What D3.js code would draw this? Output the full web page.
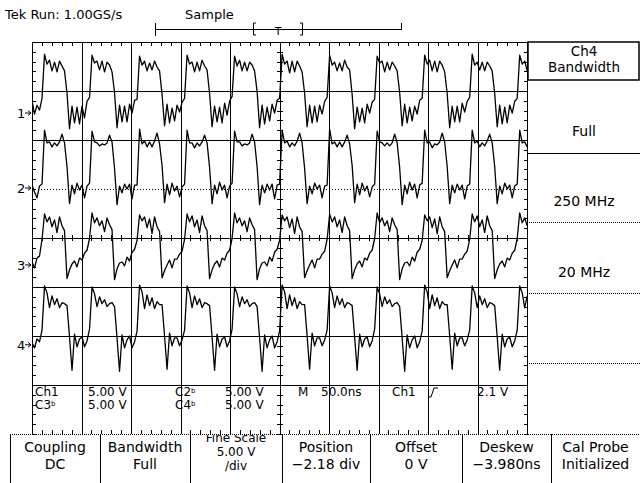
<!DOCTYPE html>
<html lang="en">
<head>
<meta charset="utf-8">
<title>Tek Run: 1.00GS/s</title>
<script src="https://cdn.jsdelivr.net/npm/d3@7"></script>
<style>
  body { margin: 0; background: #fff; }
  svg { display: block; font-family: "DejaVu Sans", sans-serif; fill: #000; }
  .grid line, .frame { stroke: #000; shape-rendering: crispEdges; }
  .tick line { stroke: #000; shape-rendering: crispEdges; }
  .wave { fill: none; stroke: #000; stroke-width: 1.3; stroke-linejoin: round; }
</style>
</head>
<body>
<script>

// Timebase / vertical settings
var timeNs = [0, 500];            // 10 div x 50.0 ns
var divRange = [-4, 4];           // 8 vertical divisions
var voltsPerDiv = 5;              // 5.00 V/div on all four channels
var sampleNs = 48 / 19;           // spacing of the values below
var channelNames = ["1", "2", "3", "4"];
var channelOffsets = [2.55, 1.02, -0.55, -2.18];   // ground marker, in divisions

// Sampled traces, volts (one row per clock period)
var ch1 = [
  1.3, -0.1, 0.8, 0.3,
  1.5, 6.0, 5.0, 5.4, 4.3, 5.2, 4.2, 5.3, 4.8, 4.3, 2.0, -1.6, 0.7, -1.0, 0.6, -1.1, 0.7, -0.5, 1.2,
  1.6, 5.9, 5.1, 5.3, 4.4, 5.3, 4.2, 5.2, 4.9, 4.2, 2.1, -1.5, 0.8, -0.9, 0.7, -0.9, 0.9, 0.0, 1.3,
  1.4, 5.8, 4.9, 5.3, 4.3, 5.1, 4.4, 5.3, 4.7, 4.3, 1.9, -1.3, 0.9, -1.0, 0.5, -0.8, 0.8, 0.1, 1.1,
  1.5, 5.9, 5.0, 5.2, 4.2, 5.2, 4.3, 5.4, 4.8, 4.4, 2.0, -1.4, 0.7, -0.9, 0.6, -1.0, 1.0, -0.2, 1.2,
  1.7, 5.8, 4.8, 5.4, 4.3, 5.2, 4.3, 5.2, 4.9, 4.3, 2.2, -1.5, 0.8, -1.1, 0.6, -0.8, 0.9, 0.0, 1.3,
  1.5, 6.0, 5.0, 5.3, 4.1, 5.3, 4.2, 5.3, 4.8, 4.2, 2.0, -1.4, 0.8, -1.0, 0.7, -0.9, 0.8, -0.1, 1.2,
  1.6, 5.9, 4.9, 5.2, 4.3, 5.1, 4.3, 5.4, 4.7, 4.4, 1.9, -1.6, 0.6, -0.9, 0.5, -1.0, 0.9, 0.0, 1.1,
  1.4, 5.8, 5.1, 5.3, 4.2, 5.2, 4.4, 5.2, 4.8, 4.3, 2.1, -1.3, 0.9, -1.0, 0.6, -0.8, 0.7, -0.1, 1.3,
  1.5, 5.9, 5.0, 5.4, 4.3, 5.3, 4.2, 5.3, 4.9, 4.2, 2.0, -1.5, 0.7, -0.9, 0.7, -0.9, 1.0, 0.1, 1.2,
  1.6, 6.0, 4.9, 5.2, 4.4, 5.2, 4.3, 5.2, 4.8, 4.3, 2.0, -1.4, 0.8, -1.1, 0.6, -1.0, 0.8, 0.0, 1.2,
  1.5, 5.9, 5.0, 5.3, 4.3
];
var ch2 = [
  0.3, -0.4, -1.0, 0.2,
  0.4, 5.9, 4.6, 4.7, 4.2, 4.6, 4.3, 4.7, 5.5, 4.6, 2.2, -1.6, 0.3, -0.6, 0.5, -0.2, 0.3, -1.0, 0.2,
  0.5, 5.8, 4.7, 4.6, 4.3, 4.5, 4.4, 4.6, 5.4, 4.7, 2.0, -1.7, 0.2, -0.5, 0.4, -0.1, 0.4, -1.1, 0.3,
  0.3, 6.0, 4.5, 4.8, 4.2, 4.7, 4.2, 4.8, 5.6, 4.5, 2.3, -1.5, 0.4, -0.7, 0.5, -0.3, 0.2, -0.9, 0.1,
  0.4, 5.9, 4.6, 4.6, 4.1, 4.6, 4.3, 4.7, 5.4, 4.6, 2.1, -1.6, 0.3, -0.6, 0.6, -0.2, 0.3, -1.0, 0.2,
  0.5, 5.8, 4.7, 4.7, 4.3, 4.5, 4.4, 4.6, 5.5, 4.7, 2.2, -1.7, 0.3, -0.5, 0.4, -0.2, 0.4, -1.1, 0.3,
  0.4, 5.9, 4.6, 4.8, 4.2, 4.6, 4.3, 4.8, 5.6, 4.6, 2.0, -1.6, 0.2, -0.6, 0.5, -0.1, 0.3, -1.0, 0.2,
  0.3, 6.0, 4.5, 4.7, 4.2, 4.7, 4.2, 4.7, 5.4, 4.5, 2.3, -1.5, 0.4, -0.7, 0.5, -0.3, 0.2, -0.9, 0.1,
  0.4, 5.8, 4.7, 4.6, 4.3, 4.6, 4.3, 4.6, 5.5, 4.6, 2.1, -1.7, 0.3, -0.6, 0.6, -0.2, 0.4, -1.0, 0.3,
  0.5, 5.9, 4.6, 4.7, 4.1, 4.5, 4.4, 4.7, 5.6, 4.7, 2.2, -1.6, 0.3, -0.5, 0.4, -0.2, 0.3, -1.1, 0.2,
  0.4, 5.9, 4.6, 4.8, 4.2, 4.6, 4.3, 4.8, 5.5, 4.6, 2.2, -1.6, 0.2, -0.6, 0.5, -0.1, 0.3, -1.0, 0.2,
  0.4, 5.9, 4.6, 4.7, 4.2
];
var ch3 = [
  0.3, -0.3, 0.7, 0.9,
  2.6, 5.2, 4.4, 4.9, 3.9, 4.6, 3.3, 4.9, 4.0, 3.5, -1.4, -0.5, 0.1, 0.4, -0.2, 0.7, 0.5, 1.2, 1.5,
  2.7, 5.3, 4.3, 4.8, 4.0, 4.5, 3.4, 4.8, 4.1, 3.6, -1.5, -0.4, 0.2, 0.3, -0.1, 0.8, 0.4, 1.3, 1.6,
  2.5, 5.1, 4.5, 4.9, 3.8, 4.7, 3.2, 4.9, 3.9, 3.4, -1.3, -0.6, 0.0, 0.5, -0.3, 0.6, 0.6, 1.1, 1.4,
  2.6, 5.2, 4.4, 5.0, 3.9, 4.6, 3.3, 5.0, 4.0, 3.5, -1.4, -0.5, 0.1, 0.4, -0.2, 0.7, 0.5, 1.2, 1.5,
  2.7, 5.3, 4.3, 4.8, 4.0, 4.5, 3.4, 4.8, 4.1, 3.6, -1.5, -0.4, 0.2, 0.3, -0.1, 0.8, 0.4, 1.3, 1.6,
  2.5, 5.1, 4.5, 4.9, 3.8, 4.7, 3.2, 4.9, 3.9, 3.4, -1.3, -0.6, 0.0, 0.5, -0.3, 0.6, 0.6, 1.1, 1.4,
  2.6, 5.2, 4.4, 4.9, 3.9, 4.6, 3.3, 4.9, 4.0, 3.5, -1.4, -0.5, 0.1, 0.4, -0.2, 0.7, 0.5, 1.2, 1.5,
  2.7, 5.3, 4.3, 4.8, 4.0, 4.5, 3.4, 4.8, 4.1, 3.6, -1.5, -0.4, 0.2, 0.3, -0.1, 0.8, 0.4, 1.3, 1.6,
  2.5, 5.1, 4.5, 4.9, 3.8, 4.7, 3.2, 4.9, 3.9, 3.4, -1.3, -0.6, 0.0, 0.5, -0.3, 0.6, 0.6, 1.1, 1.4,
  2.6, 5.2, 4.4, 5.0, 3.9, 4.6, 3.3, 5.0, 4.0, 3.5, -1.4, -0.5, 0.1, 0.4, -0.2, 0.7, 0.5, 1.2, 1.5,
  2.7, 5.3, 4.3, 4.8, 4.0
];
var ch4 = [
  0.2, -0.3, 0.6, 0.3,
  1.5, 6.0, 5.3, 3.8, 5.0, 4.1, 4.7, 3.8, 4.3, 4.2, 4.0, 0.8, -2.6, 1.1, -0.2, 0.6, 0.8, -0.2, 0.4,
  1.6, 5.9, 5.2, 3.9, 4.9, 4.2, 4.6, 3.9, 4.2, 4.3, 3.9, 0.7, -2.7, 1.0, -0.3, 0.5, 0.9, -0.3, 0.3,
  1.4, 6.1, 5.4, 3.7, 5.1, 4.0, 4.8, 3.7, 4.4, 4.1, 4.1, 0.9, -2.5, 1.2, -0.1, 0.7, 0.7, -0.1, 0.5,
  1.5, 6.0, 5.3, 3.8, 5.0, 4.1, 4.7, 3.8, 4.3, 4.2, 4.0, 0.8, -2.6, 1.1, -0.2, 0.6, 0.8, -0.2, 0.4,
  1.6, 5.9, 5.2, 3.9, 4.9, 4.2, 4.6, 3.9, 4.2, 4.3, 3.9, 0.7, -2.7, 1.0, -0.3, 0.5, 0.9, -0.3, 0.3,
  1.4, 6.1, 5.4, 3.7, 5.1, 4.0, 4.8, 3.7, 4.4, 4.1, 4.1, 0.9, -2.5, 1.2, -0.1, 0.7, 0.7, -0.1, 0.5,
  1.5, 6.0, 5.3, 3.8, 5.0, 4.1, 4.7, 3.8, 4.3, 4.2, 4.0, 0.8, -2.6, 1.1, -0.2, 0.6, 0.8, -0.2, 0.4,
  1.6, 5.9, 5.2, 3.9, 4.9, 4.2, 4.6, 3.9, 4.2, 4.3, 3.9, 0.7, -2.7, 1.0, -0.3, 0.5, 0.9, -0.3, 0.3,
  1.4, 6.1, 5.4, 3.7, 5.1, 4.0, 4.8, 3.7, 4.4, 4.1, 4.1, 0.9, -2.5, 1.2, -0.1, 0.7, 0.7, -0.1, 0.5,
  1.5, 6.0, 5.3, 3.8, 5.0, 4.1, 4.7, 3.8, 4.3, 4.2, 4.0, 0.8, -2.6, 1.1, -0.2, 0.6, 0.8, -0.2, 0.4,
  1.5, 6.0, 5.3, 3.8, 5.0
];
var traces = [ch1, ch2, ch3, ch4];

// Screen texts: [text, bandwidth-limit flag, x]
var readoutRow1 = [["Ch1", 0, 35], ["5.00 V", 0, 88], ["C2", 1, 175], ["5.00 V", 0, 225], ["M", 0, 298], ["50.0ns", 0, 321], ["Ch1", 0, 392], ["2.1 V", 0, 477]];
var readoutRow2 = [["C3", 1, 35], ["5.00 V", 0, 88], ["C4", 1, 175], ["5.00 V", 0, 225]];
var sideTitle = ["Ch4", "Bandwidth"];
var sideItems = ["Full", "250 MHz", "20 MHz"];
var menuItems = [
  ["Coupling", "DC"],
  ["Bandwidth", "Full"],
  ["Fine Scale", "5.00 V", "/div"],
  ["Position", "\u22122.18 div"],
  ["Offset", "0 V"],
  ["Deskew", "\u22123.980ns"],
  ["Cal Probe", "Initialized"]
];

var w = 640, h = 483;
var gLeft = 32, gRight = 527, gTop = 42, gBottom = 434;

var svg = d3.select("body").append("svg")
  .attr("width", w)
  .attr("height", h);

var x = d3.scaleLinear().domain(timeNs).range([gLeft, gRight]);
var y = d3.scaleLinear().domain(divRange).range([gBottom, gTop]);

function px(v) { return Math.round(v) + 0.5; }

//Graticule lines
var grid = svg.append("g").attr("class", "grid");
grid.selectAll(".v")
  .data(d3.range(50, 500, 50))
  .enter().append("line")
  .attr("x1", function(d) { return px(x(d)); })
  .attr("x2", function(d) { return px(x(d)); })
  .attr("y1", gTop).attr("y2", gBottom);
grid.selectAll(".h")
  .data(d3.range(-3, 4, 1))
  .enter().append("line")
  .attr("x1", gLeft).attr("x2", gRight)
  .attr("y1", function(d) { return px(y(d)); })
  .attr("y2", function(d) { return px(y(d)); })
  .attr("stroke-dasharray", function(d) { return d === 1 ? "1,2" : null; });

//Frame
svg.append("line").attr("class", "frame")
  .attr("x1", gLeft).attr("x2", gRight).attr("y1", gTop + 0.5).attr("y2", gTop + 0.5);
svg.append("line").attr("class", "frame")
  .attr("x1", gLeft + 0.5).attr("x2", gLeft + 0.5).attr("y1", gTop).attr("y2", gBottom);
svg.append("line").attr("class", "frame")
  .attr("x1", gRight + 0.5).attr("x2", gRight + 0.5).attr("y1", gTop).attr("y2", gBottom);
svg.append("line").attr("class", "frame")
  .attr("x1", 10).attr("x2", w).attr("y1", gBottom + 0.5).attr("y2", gBottom + 0.5)
  .attr("stroke-dasharray", "1,1");

//Minor ticks on frame and center axes
var tTicks = d3.range(0, 501, 10);
var vTicks = d3.range(-4, 4.01, 0.2);
function noDomain(g) { g.select(".domain").remove(); }

svg.append("g").attr("transform", "translate(0," + gTop + ")")
  .call(d3.axisTop(x).tickValues(tTicks).tickSize(-4).tickFormat("")).call(noDomain);
svg.append("g").attr("transform", "translate(0," + gBottom + ")")
  .call(d3.axisBottom(x).tickValues(tTicks).tickSize(-4).tickFormat("")).call(noDomain);
svg.append("g").attr("transform", "translate(" + gLeft + ",0)")
  .call(d3.axisLeft(y).tickValues(vTicks).tickSize(-4).tickFormat("")).call(noDomain);
svg.append("g").attr("transform", "translate(" + (gRight + 1) + ",0)")
  .call(d3.axisRight(y).tickValues(vTicks).tickSize(-4).tickFormat("")).call(noDomain);
svg.append("g").attr("transform", "translate(0," + Math.round(y(0)) + ")")
  .call(d3.axisBottom(x).tickValues(tTicks).tickSize(3).tickFormat("")).call(noDomain)
  .selectAll(".tick line").attr("y1", -3);
svg.append("g").attr("transform", "translate(" + Math.round(x(250)) + ",0)")
  .call(d3.axisLeft(y).tickValues(vTicks).tickSize(3).tickFormat("")).call(noDomain)
  .selectAll(".tick line").attr("x1", 3);

//Waveforms
svg.append("clipPath").attr("id", "screen")
  .append("rect")
  .attr("x", gLeft).attr("y", gTop)
  .attr("width", gRight - gLeft).attr("height", y(-3) - gTop);

traces.forEach(function(data, c) {
  var line = d3.line()
    .x(function(d, i) { return x(i * sampleNs); })
    .y(function(d) { return y(channelOffsets[c] + d / voltsPerDiv); });
  svg.append("path")
    .attr("class", "wave")
    .attr("clip-path", "url(#screen)")
    .attr("d", line(data));

  //Ground marker
  var gy = y(channelOffsets[c]);
  svg.append("text")
    .attr("x", 17).attr("y", gy + 5)
    .attr("font-size", "13px")
    .text(channelNames[c]);
  svg.append("path")
    .attr("d", "M25," + gy + "H31M28," + (gy - 2.5) + "L31," + gy + "L28," + (gy + 2.5))
    .attr("fill", "none").attr("stroke", "#000");
});

//Readout
var readout = svg.append("g").attr("font-size", "12px");
function readoutRow(rows, yy) {
  var t = readout.selectAll(null).data(rows).enter().append("text")
    .attr("x", function(d) { return d[2]; })
    .attr("y", yy)
    .text(function(d) { return d[0]; });
  t.filter(function(d) { return d[1]; })
    .append("tspan").attr("font-size", "7px").attr("dy", -3).text("b");
}
readoutRow(readoutRow1, 396);
readoutRow(readoutRow2, 409);
svg.append("path")
  .attr("d", "M428,397H431L434,388H438")
  .attr("fill", "none").attr("stroke", "#000");

//Header
svg.append("text").attr("x", 5).attr("y", 19).attr("font-size", "13px").text("Tek Run: 1.00GS/s");
svg.append("text").attr("x", 185).attr("y", 19).attr("font-size", "13px").text("Sample");
svg.append("path")
  .attr("d", "M155,29.5H402M155.5,23V36M401.5,23V30M256,23H253.5V35H256M300,23H302.5V35H300")
  .attr("fill", "none").attr("stroke", "#000");
svg.append("text").attr("x", 278).attr("y", 35).attr("font-size", "11px")
  .attr("text-anchor", "middle").text("T");

//Side menu
svg.append("rect")
  .attr("x", gRight + 1).attr("y", gTop).attr("width", w - gRight - 2).attr("height", 38)
  .attr("fill", "none").attr("stroke", "#000").attr("stroke-width", 1.5);
svg.selectAll(".st").data(sideTitle).enter().append("text")
  .attr("x", 584).attr("y", function(d, i) { return 56 + i * 16; })
  .attr("text-anchor", "middle").attr("font-size", "13.5px")
  .text(function(d) { return d; });
svg.selectAll(".si").data(sideItems).enter().append("text")
  .attr("x", 584).attr("y", function(d, i) { return [136, 206, 277][i]; })
  .attr("text-anchor", "middle").attr("font-size", "14px")
  .text(function(d) { return d; });
svg.append("line").attr("class", "frame")
  .attr("x1", gRight).attr("x2", w).attr("y1", 153.5).attr("y2", 153.5);
svg.selectAll(".sd").data([222, 293, 363]).enter().append("line").attr("class", "frame")
  .attr("x1", gRight).attr("x2", w)
  .attr("y1", function(d) { return d + 0.5; }).attr("y2", function(d) { return d + 0.5; })
  .attr("stroke-dasharray", "1,1");

//Bottom menu
var seps = [10, 100, 190, 282, 370, 462, 551, 640];
svg.selectAll(".sep").data(seps.slice(0, 7)).enter().append("line").attr("class", "frame")
  .attr("x1", function(d) { return d + 0.5; }).attr("x2", function(d) { return d + 0.5; })
  .attr("y1", gBottom).attr("y2", h);
svg.append("clipPath").attr("id", "menu")
  .append("rect").attr("x", 0).attr("y", gBottom + 1).attr("width", w).attr("height", h - gBottom);
var menu = svg.append("g").attr("clip-path", "url(#menu)").attr("font-size", "14px");
menuItems.forEach(function(lines, i) {
  var cx = (seps[i] + seps[i + 1]) / 2;
  var ys = lines.length === 3 ? [442, 456, 470] : [452, 469];
  lines.forEach(function(s, j) {
    menu.append("text")
      .attr("x", cx).attr("y", ys[j])
      .attr("text-anchor", "middle")
      .attr("font-size", lines.length === 3 ? "12px" : null)
      .text(s);
  });
});

</script>
</body>
</html>
